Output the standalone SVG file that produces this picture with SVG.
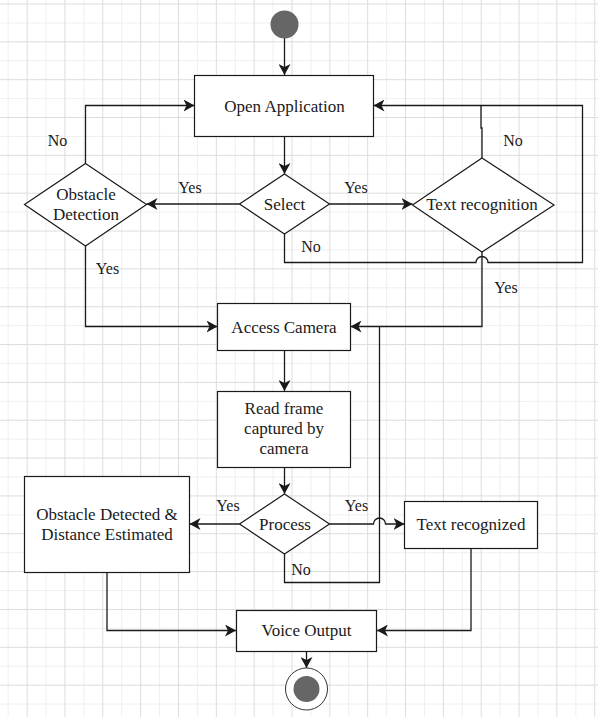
<svg xmlns="http://www.w3.org/2000/svg" width="598" height="717" viewBox="0 0 598 717">
<style>
.node{fill:#fff;stroke:#1a1a1a;stroke-width:1.2}
.t{font-family:"Liberation Serif","Times New Roman",serif;font-size:17px;fill:#1a1a1a;text-anchor:middle}
.lbl{font-family:"Liberation Serif","Times New Roman",serif;font-size:16px;fill:#1a1a1a;text-anchor:middle}
.c{fill:none;stroke:#1a1a1a;stroke-width:1.3}
.a{marker-end:url(#arr)}
</style>
<defs>
<pattern id="grid" patternUnits="userSpaceOnUse" x="7.7" y="3.5" width="37.84" height="37.84">
<rect x="0" y="0" width="1" height="37.84" fill="#efefef"/>
<rect x="0" y="18.92" width="37.84" height="1" fill="#efefef"/>
<rect x="18.92" y="0" width="1" height="37.84" fill="#dcdcdc"/>
<rect x="0" y="0" width="37.84" height="1" fill="#dcdcdc"/>
</pattern>
<marker id="arr" markerUnits="userSpaceOnUse" viewBox="0 0 11 12" markerWidth="11" markerHeight="12" refX="11" refY="6" orient="auto">
<path d="M0,0 L11,6 L0,12 L3,6 Z" fill="#1a1a1a"/>
</marker>
</defs>
<rect width="598" height="717" fill="#fff"/>
<rect width="598" height="717" fill="url(#grid)"/>

<g id="connectors">
<path class="c a" d="M284.5,38 V75"/>
<path class="c a" d="M284.5,136 V174"/>
<path class="c a" d="M239.5,204 H146.5"/>
<path class="c a" d="M329.5,204 H412.5"/>
<path class="c a" d="M85.5,163.5 V105.5 H194.5"/>
<path class="c a" d="M85.5,246 V326.5 H217.5"/>
<path class="c a" d="M284.5,234 V262.5 H476 A6,6 0 0 1 488,262.5 H582.5 V105.5 H373.5"/>
<path class="c" d="M482,158 V128 H481 V105.5"/>
<path class="c a" d="M482,252 V326.5 H350.5"/>
<path class="c a" d="M284.5,350 V391"/>
<path class="c a" d="M284.5,467 V494"/>
<path class="c a" d="M239.5,524 H189.5"/>
<path class="c a" d="M329.5,524 H373.5 A6,6 0 0 1 385.5,524 H404.5"/>
<path class="c" d="M284.5,554 V582.5 H379.5 V326.5"/>
<path class="c a" d="M107,572 V630.5 H236"/>
<path class="c a" d="M471,548 V630.5 H377"/>
<path class="c a" d="M306.5,651 V668"/>
<text class="lbl" x="57.5" y="146">No</text>
<text class="lbl" x="190" y="193">Yes</text>
<text class="lbl" x="107.5" y="274">Yes</text>
<text class="lbl" x="356" y="193">Yes</text>
<text class="lbl" x="311" y="252">No</text>
<text class="lbl" x="513" y="146">No</text>
<text class="lbl" x="506" y="293">Yes</text>
<text class="lbl" x="228" y="511">Yes</text>
<text class="lbl" x="356.5" y="511">Yes</text>
<text class="lbl" x="301" y="575">No</text>
</g>

<g id="start"><circle cx="284.5" cy="24.5" r="14" fill="#666"/></g>
<g id="open-application"><rect class="node" x="194.5" y="75.5" width="179" height="61"/><text class="t" x="284.5" y="112">Open Application</text></g>
<g id="select"><path class="node" d="M284.5,174 L329.5,204 L284.5,234 L239.5,204 Z"/><text class="t" x="284.5" y="210">Select</text></g>
<g id="obstacle-detection"><path class="node" d="M85.5,163.5 L146.5,204.5 L85.5,246 L24.5,204.5 Z"/><text class="t" x="86" y="200">Obstacle</text><text class="t" x="86" y="220">Detection</text></g>
<g id="text-recognition"><path class="node" d="M482,158 L554,205 L482,252 L412.5,205 Z"/><text class="t" x="482" y="210">Text recognition</text></g>
<g id="access-camera"><rect class="node" x="217.5" y="303.5" width="133" height="47"/><text class="t" x="284" y="332.5">Access Camera</text></g>
<g id="read-frame"><rect class="node" x="217.5" y="391.5" width="133" height="76"/><text class="t" x="284" y="413.5">Read frame</text><text class="t" x="284" y="433.5">captured by</text><text class="t" x="284" y="453.5">camera</text></g>
<g id="process"><path class="node" d="M284.5,494 L329.5,524 L284.5,554 L239.5,524 Z"/><text class="t" x="285" y="530">Process</text></g>
<g id="obstacle-detected"><rect class="node" x="24.5" y="476.5" width="165" height="96"/><text class="t" x="107" y="520">Obstacle Detected &amp;</text><text class="t" x="107" y="540">Distance Estimated</text></g>
<g id="text-recognized"><rect class="node" x="404.5" y="501.5" width="133" height="47"/><text class="t" x="471" y="530">Text recognized</text></g>
<g id="voice-output"><rect class="node" x="236.5" y="610.5" width="140" height="41"/><text class="t" x="306.5" y="636">Voice Output</text></g>
<g id="end"><circle cx="306.5" cy="689" r="21" fill="#fff" stroke="#333" stroke-width="1"/><circle cx="306.5" cy="689" r="13" fill="#666"/></g>
</svg>
